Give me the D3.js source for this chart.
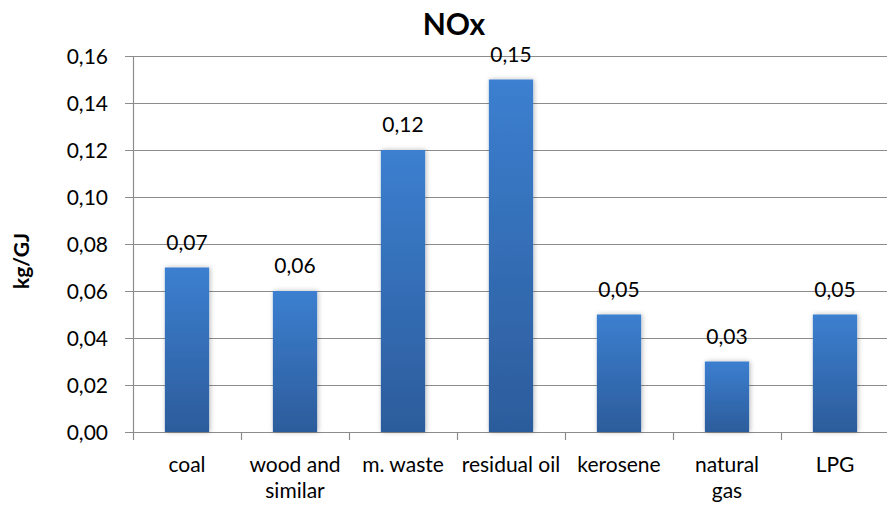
<!DOCTYPE html>
<html>
<head>
<meta charset="utf-8">
<script src="https://cdn.jsdelivr.net/npm/d3@7"></script>
<style>
  html, body { margin: 0; padding: 0; background: #fff; }
  svg { display: block; }
  text { font-family: Lato, "Open Sans", "Liberation Sans", sans-serif; fill: #000; }
</style>
</head>
<body>
<svg id="chart" width="887" height="505"></svg>
<script>
// NOx emission factors by fuel type (kg/GJ)
const categories = [["coal"], ["wood and", "similar"], ["m. waste"], ["residual oil"], ["kerosene"], ["natural", "gas"], ["LPG"]];
const values = [0.07, 0.06, 0.12, 0.15, 0.05, 0.03, 0.05];
const yTicks = [0, 0.02, 0.04, 0.06, 0.08, 0.10, 0.12, 0.14, 0.16];
const title = "NOx";
const yLabel = "kg/GJ";

const svg = d3.select("#chart");
const margin = { left: 133, right: -2, top: 56, bottom: 73 };
const W = 887, H = 505;
const fmt = v => v.toFixed(2).replace(".", ",");

const keys = categories.map((c, i) => i);
const x = d3.scaleBand().domain(keys).range([margin.left, W - margin.right]).paddingInner(0.59).paddingOuter(0.295);
const xEdge = d3.scaleBand().domain(keys).range([margin.left, W - margin.right]);
const y = d3.scaleLinear().domain([0, 0.16]).range([H - margin.bottom, margin.top]);

const defs = svg.append("defs");
const grad = defs.append("linearGradient").attr("id", "barGrad").attr("x1", 0).attr("y1", 0).attr("x2", 0).attr("y2", 1);
grad.append("stop").attr("offset", "0%").attr("stop-color", "#3c7fd0");
grad.append("stop").attr("offset", "100%").attr("stop-color", "#2c5c9b");
const shadow = defs.append("filter").attr("id", "shadow").attr("x", "-30%").attr("y", "-10%").attr("width", "160%").attr("height", "120%");
shadow.append("feDropShadow").attr("dx", 1).attr("dy", 0).attr("stdDeviation", 2.5).attr("flood-color", "#000").attr("flood-opacity", 0.28);

const gridColor = "#8c8c8c";

// horizontal gridlines with left tick marks
svg.append("g").selectAll("line").data(yTicks).join("line")
  .attr("x1", margin.left - 8).attr("x2", W)
  .attr("y1", d => Math.round(y(d)) + 0.5).attr("y2", d => Math.round(y(d)) + 0.5)
  .attr("stroke", gridColor).attr("stroke-width", 1.2);

// y axis line
svg.append("line")
  .attr("x1", margin.left + 0.5).attr("x2", margin.left + 0.5)
  .attr("y1", y(0.16)).attr("y2", y(0))
  .attr("stroke", gridColor).attr("stroke-width", 1.2);

// category tick marks below x axis
svg.append("g").selectAll("line").data(keys).join("line")
  .attr("x1", d => Math.round(xEdge(d)) + 0.5).attr("x2", d => Math.round(xEdge(d)) + 0.5)
  .attr("y1", y(0)).attr("y2", y(0) + 8)
  .attr("stroke", gridColor).attr("stroke-width", 1.2);

// y tick labels
svg.append("g").selectAll("text").data(yTicks).join("text")
  .attr("x", 108).attr("y", d => y(d)).attr("dy", "0.36em")
  .attr("text-anchor", "end").attr("font-size", 21)
  .text(fmt);

// bars
svg.append("g").selectAll("rect").data(values).join("rect")
  .attr("x", (d, i) => x(i)).attr("width", x.bandwidth())
  .attr("y", d => y(d)).attr("height", d => y(0) - y(d))
  .attr("fill", "url(#barGrad)").attr("filter", "url(#shadow)");

// value labels
svg.append("g").selectAll("text").data(values).join("text")
  .attr("x", (d, i) => x(i) + x.bandwidth() / 2).attr("y", d => y(d) - 18)
  .attr("text-anchor", "middle").attr("font-size", 21)
  .text(fmt);

// category labels
const cat = svg.append("g").selectAll("text").data(categories).join("text")
  .attr("x", (d, i) => x(i) + x.bandwidth() / 2).attr("y", 472)
  .attr("text-anchor", "middle").attr("font-size", 21);
cat.selectAll("tspan").data(d => d).join("tspan")
  .attr("x", function () { return this.parentNode.getAttribute("x"); })
  .attr("dy", (d, i) => i === 0 ? 0 : 26)
  .text(d => d);

// title
svg.append("text").attr("x", 454).attr("y", 35)
  .attr("text-anchor", "middle").attr("font-size", 30).attr("font-weight", "bold")
  .text(title);

// y axis title
svg.append("text").attr("transform", `translate(29,261) rotate(-90)`)
  .attr("text-anchor", "middle").attr("font-size", 21).attr("font-weight", "bold")
  .text(yLabel);
</script>
</body>
</html>
